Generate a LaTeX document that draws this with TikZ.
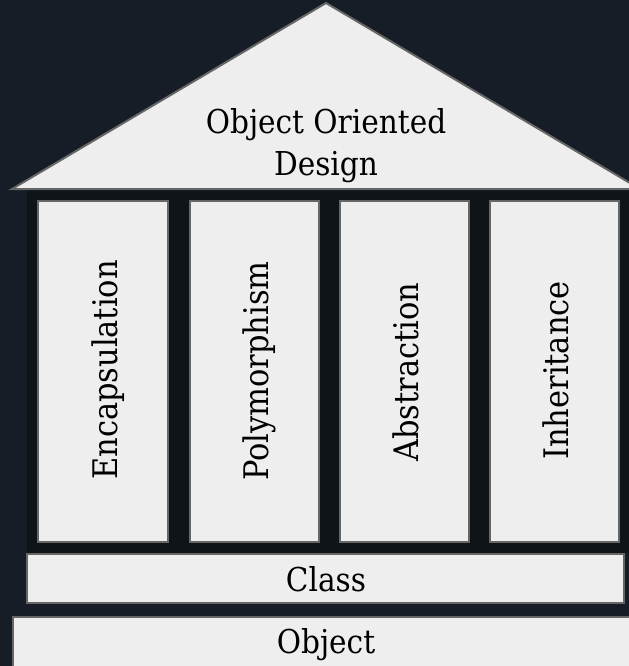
\documentclass[tikz,border=0pt]{standalone}
\usepackage{fontspec}
\newfontfamily\labelserif{DejaVu Serif Condensed}

\definecolor{bgnavy}{HTML}{171D26}
\definecolor{gapdark}{HTML}{0F1419}
\definecolor{slab}{HTML}{EEEEEE}
\definecolor{edge}{HTML}{666666}

\tikzset{
  block/.style={draw=edge, line width=2bp, fill=slab, rectangle, inner sep=0pt},
  lbl/.style={font=\labelserif\fontsize{33}{42}\selectfont, text=black, inner sep=0pt},
  pillarlbl/.style={font=\labelserif\fontsize{34}{44}\selectfont, text=black, inner sep=0pt, rotate=90, anchor=base},
  pillar/.style={block, minimum width=129bp, minimum height=340bp},
}

\begin{document}
\begin{tikzpicture}[x=1bp, y=-1bp]
  % canvas
  \fill[bgnavy] (0,0) rectangle (629,666);
  \useasboundingbox (0,0) rectangle (629,666);

  % dark backing behind the columns
  \fill[gapdark] (27,189) rectangle (629,553);

  % roof
  \coordinate (apex) at (326,3);
  \coordinate (eaveL) at (12,189);
  \coordinate (eaveR) at (640,189);
  \filldraw[block, line join=miter] (apex) -- (eaveL) -- (eaveR) -- cycle;
  \node[lbl, align=center, anchor=north] (roof) at (326,108) {Object Oriented\\Design};

  % columns
  \node[pillar] (p1) at (103,371.5) {};
  \node[pillar] (p2) at (254.5,371.5) {};
  \node[pillar] (p3) at (404,371.5) {};
  \node[pillar] (p4) at (554.5,371.5) {};
  \node[pillarlbl] (t1) at (117,370) {Encapsulation};
  \node[pillarlbl] (t2) at (268,371) {Polymorphism};
  \node[pillarlbl] (t3) at (418,372) {Abstraction};
  \node[pillarlbl] (t4) at (568,370.5) {Inheritance};

  % foundation
  \node[block, minimum width=596bp, minimum height=49bp] (cls) at (325.5,578) {};
  \node[lbl, anchor=base] (clst) at (326,591.5) {Class};
  \node[block, minimum width=632bp, minimum height=64bp] (obj) at (329,649) {};
  \node[lbl, anchor=base] (objt) at (326,653) {Object};
\end{tikzpicture}
\end{document}
